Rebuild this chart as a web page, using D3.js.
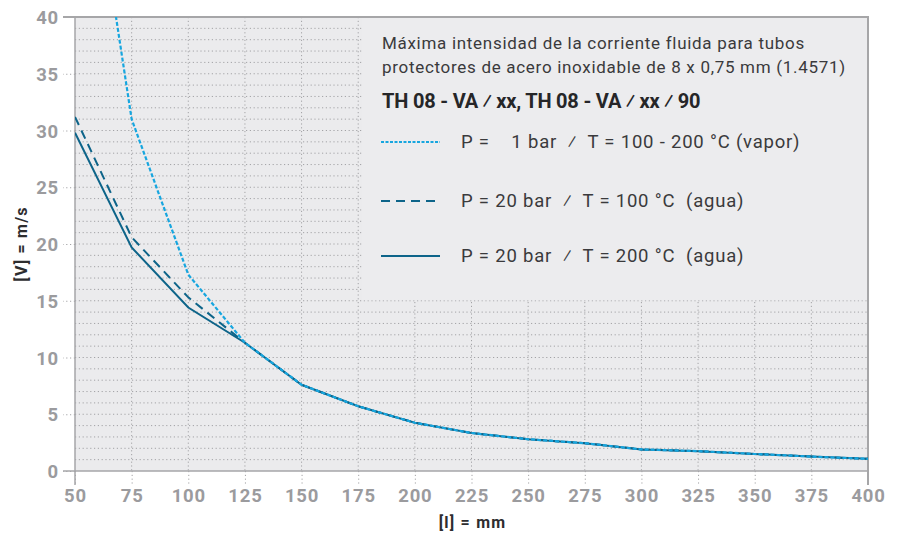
<!DOCTYPE html>
<html>
<head>
<meta charset="utf-8">
<script src="https://cdn.jsdelivr.net/npm/d3@7"></script>
<style>
  body { margin: 0; background: #fff; }
  svg text { font-family: Roboto, "DejaVu Sans", sans-serif; }
</style>
</head>
<body>
<div id="chart"></div>
<script>
// data
const lengths = [50, 75, 100, 125, 150, 175, 200, 225, 250, 275, 300, 325, 350, 375, 400];
const vapor = [63.6, 31.0, 17.3, 11.3, 7.6, 5.7, 4.25, 3.35, 2.8, 2.45, 1.9, 1.75, 1.5, 1.27, 1.07];
const water100 = [31.2, 20.6, 15.3, 11.3, 7.6, 5.7, 4.25, 3.35, 2.8, 2.45, 1.9, 1.75, 1.5, 1.27, 1.07];
const water200 = [29.8, 19.7, 14.4, 11.3, 7.6, 5.7, 4.25, 3.35, 2.8, 2.45, 1.9, 1.75, 1.5, 1.27, 1.07];
const xTicks = [50, 75, 100, 125, 150, 175, 200, 225, 250, 275, 300, 325, 350, 375, 400];
const yTicks = [0, 5, 10, 15, 20, 25, 30, 35, 40];
const titleLines = ["Máxima intensidad de la corriente fluida para tubos",
                    "protectores de acero inoxidable de 8 x 0,75 mm (1.4571)"];
const boldTitle = "TH 08 - VA ⁄ xx, TH 08 - VA ⁄ xx ⁄ 90";
const seriesLabels = ["P =    1 bar  ⁄  T = 100 - 200 °C (vapor)",
                      "P = 20 bar  ⁄  T = 100 °C  (agua)",
                      "P = 20 bar  ⁄  T = 200 °C  (agua)"];

const W = 902, H = 535;
const margin = { top: 17, right: 34, bottom: 64, left: 75 },
    width = W - margin.left - margin.right,
    height = H - margin.top - margin.bottom;

const svg = d3.select("#chart").append("svg")
    .attr("width", W).attr("height", H);

const g = svg.append("g").attr("transform", `translate(${margin.left},${margin.top})`);

const x = d3.scaleLinear().domain([50, 400]).range([0, width]);
const y = d3.scaleLinear().domain([0, 40]).range([height, 0]);

const gridCol = "#a3a3a6", axisCol = "#a6a6a8", dots = "1.2,2.6";

// plot background
g.append("rect").attr("width", width).attr("height", height).attr("fill", "#ebebed");

// minor horizontal grid every 1 unit
g.append("g").selectAll("line")
    .data(d3.range(1, 40))
    .join("line")
    .attr("x1", 0).attr("x2", width)
    .attr("y1", d => y(d)).attr("y2", d => y(d))
    .attr("stroke", gridCol).attr("stroke-dasharray", dots);

// vertical grid
g.append("g").selectAll("line")
    .data(xTicks.slice(1, -1))
    .join("line")
    .attr("x1", d => x(d)).attr("x2", d => x(d))
    .attr("y1", 0).attr("y2", height)
    .attr("stroke", gridCol).attr("stroke-dasharray", dots);

// legend panel covers the grid in the upper right
const boxX = 287;
g.append("rect")
    .attr("x", boxX).attr("y", 0)
    .attr("width", width - boxX).attr("height", y(15) - 0.5)
    .attr("fill", "#ececee");

// y axis
const yAxis = g.append("g").call(d3.axisLeft(y).tickValues(yTicks).tickSize(12).tickPadding(4));
yAxis.select(".domain").remove();
yAxis.selectAll(".tick line").attr("stroke", gridCol).attr("stroke-dasharray", dots);
yAxis.selectAll(".tick text")
    .attr("fill", "#9b9b9e").style("font-size", "18.5px").style("font-weight", "bold")
    .style("letter-spacing", "0.8px")
    .attr("dy", "0.36em");

// x axis
const xAxis = g.append("g").attr("transform", `translate(0,${height})`)
    .call(d3.axisBottom(x).tickValues(xTicks).tickSize(14).tickPadding(4));
xAxis.select(".domain").remove();
xAxis.selectAll(".tick line").attr("stroke", gridCol).attr("stroke-dasharray", dots);
xAxis.selectAll(".tick text")
    .attr("fill", "#9b9b9e").style("font-size", "18.5px").style("font-weight", "bold")
    .style("letter-spacing", "0.8px");

// frame lines
g.append("line").attr("x1", 0).attr("x2", 0).attr("y1", 0).attr("y2", height + 14)
    .attr("stroke", axisCol).attr("stroke-width", 1.5);
g.append("line").attr("x1", -12).attr("x2", width).attr("y1", height).attr("y2", height)
    .attr("stroke", axisCol).attr("stroke-width", 1.5);
g.append("line").attr("x1", -12).attr("x2", width + 1).attr("y1", 0).attr("y2", 0)
    .attr("stroke", axisCol).attr("stroke-width", 2);
g.append("line").attr("x1", width).attr("x2", width).attr("y1", 0).attr("y2", height + 14)
    .attr("stroke", axisCol).attr("stroke-width", 2);

// lines
g.append("clipPath").attr("id", "clip").append("rect").attr("width", width).attr("height", height);
const line = d3.line().x((d, i) => x(lengths[i])).y(d => y(d));
const series = [
    { values: water200, color: "#0d6489", dash: null, w: 2 },
    { values: water100, color: "#0d6489", dash: "9,6", w: 2 },
    { values: vapor, color: "#17a6df", dash: "4,2", w: 2.2 }
];
g.append("g").attr("clip-path", "url(#clip)")
    .selectAll("path").data(series).join("path")
    .attr("d", d => line(d.values))
    .attr("fill", "none")
    .attr("stroke", d => d.color)
    .attr("stroke-width", d => d.w)
    .attr("stroke-dasharray", d => d.dash);

// axis titles
svg.append("text").attr("x", margin.left + width / 2 + 1).attr("y", 528)
    .attr("text-anchor", "middle").attr("fill", "#2d2d2f")
    .style("font-size", "16px").style("font-weight", "bold").style("letter-spacing", "1.2px")
    .text("[l] = mm");
svg.append("text").attr("transform", `translate(27,${margin.top + height / 2}) rotate(-90)`)
    .attr("text-anchor", "middle").attr("fill", "#2d2d2f")
    .style("font-size", "16px").style("font-weight", "bold").style("letter-spacing", "1.2px")
    .text("[V] = m/s");

// legend text
const lg = g.append("g").attr("transform", `translate(${boxX + 20},0)`);
lg.selectAll("text.t").data(titleLines).join("text").attr("class", "t")
    .attr("x", 0).attr("y", (d, i) => 32 + i * 24)
    .attr("fill", "#3a3a3c").style("font-size", "17px").style("letter-spacing", "0.7px")
    .text(d => d);
lg.append("text").attr("x", 0).attr("y", 91)
    .attr("fill", "#262628").style("font-size", "20px").style("font-weight", "bold")
    .style("letter-spacing", "-0.2px")
    .text(boldTitle);
const legendY = [125, 184, 239];
const lgItems = lg.selectAll("g.item").data([series[2], series[1], series[0]]).join("g")
    .attr("class", "item")
    .attr("transform", (d, i) => `translate(0,${legendY[i]})`);
lgItems.append("line").attr("x1", -1).attr("x2", 58)
    .attr("stroke", d => d.color).attr("stroke-width", 2)
    .attr("stroke-dasharray", d => d.dash === "4,2" ? "3,1.5" : d.dash);
lgItems.append("text").attr("x", 79).attr("y", 6)
    .attr("fill", "#3a3a3c").style("font-size", "18.5px").style("white-space", "pre")
    .style("letter-spacing", "0.8px")
    .text((d, i) => seriesLabels[i]);
</script>
</body>
</html>
